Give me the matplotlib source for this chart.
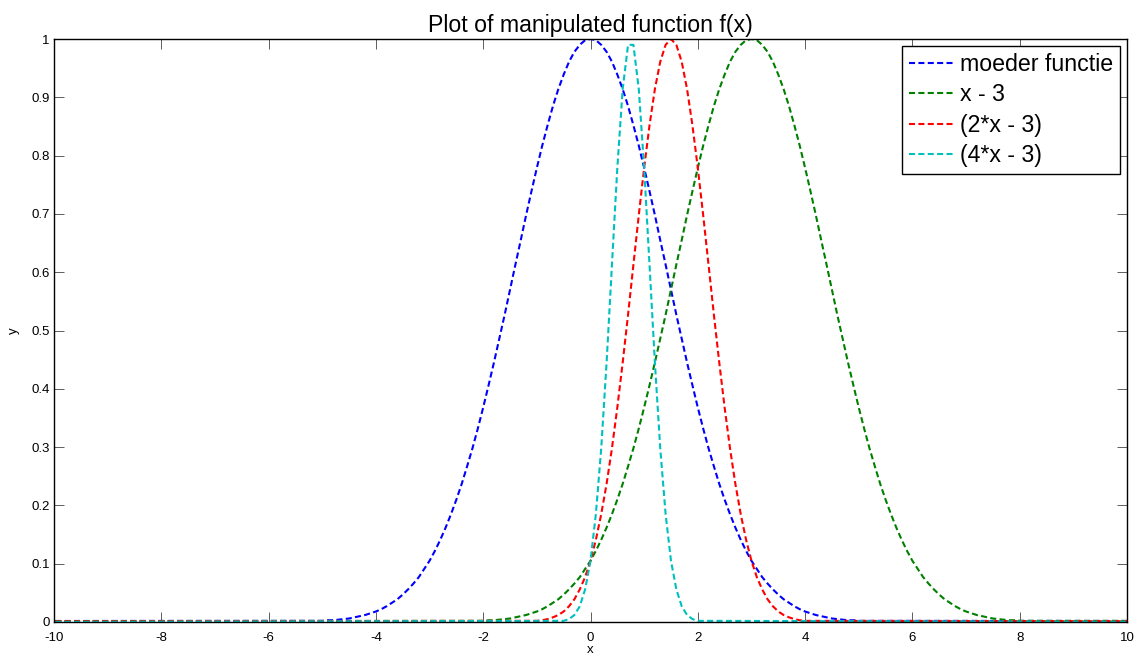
import numpy as np
import matplotlib
matplotlib.use("Agg")
import matplotlib.pyplot as plt

plt.rcParams['font.family'] = ['Liberation Sans', 'DejaVu Sans']
plt.rcParams['axes.unicode_minus'] = False

u_grid = np.round(np.arange(-50, 51) / 10.0, 1)
mother_vals = [
    0.002, 0.003, 0.003, 0.004, 0.005, 0.006, 0.008, 0.010, 0.012, 0.015,
    0.018, 0.022, 0.027, 0.033, 0.039, 0.047, 0.056, 0.066, 0.077, 0.091,
    0.105, 0.122, 0.141, 0.162, 0.185, 0.210, 0.237, 0.267, 0.298, 0.332,
    0.368, 0.406, 0.445, 0.486, 0.527, 0.570, 0.613, 0.655, 0.698, 0.739,
    0.779, 0.817, 0.852, 0.885, 0.914, 0.939, 0.961, 0.978, 0.990, 0.998,
    1.000,
    0.998, 0.990, 0.978, 0.961, 0.939, 0.914, 0.885, 0.852, 0.817, 0.779,
    0.739, 0.698, 0.655, 0.613, 0.570, 0.527, 0.486, 0.445, 0.406, 0.368,
    0.332, 0.298, 0.267, 0.237, 0.210, 0.185, 0.162, 0.141, 0.122, 0.105,
    0.091, 0.077, 0.066, 0.056, 0.047, 0.039, 0.033, 0.027, 0.022, 0.018,
    0.015, 0.012, 0.010, 0.008, 0.006, 0.005, 0.004, 0.003, 0.003, 0.002,
]
# far tails (essentially zero)
tail_u = [-45.0, 45.0]
tail_vals = [0.0, 0.0]

# Series: label, argument scale a and shift b in f(a*x - b)
labels = ['moeder functie', 'x - 3', '(2*x - 3)', '(4*x - 3)']
scale_a = [1, 1, 2, 4]
shift_b = [0, 3, 3, 3]
colors = ['#0000ff', '#008000', '#ff0000', '#00bfbf']

u_all = np.concatenate([[tail_u[0]], u_grid, [tail_u[1]]])
f_all = np.concatenate([[tail_vals[0]], np.array(mother_vals, dtype=float), [tail_vals[1]]])

fig = plt.figure(figsize=(11.45, 6.57), dpi=100)
ax = fig.add_axes([54 / 1145, 1 - 622 / 657, (1127 - 54) / 1145, (622 - 39) / 657])

for lab, a, b, c in zip(labels, scale_a, shift_b, colors):
    x = (u_all + b) / a
    keep = np.isclose(x * 10, np.round(x * 10), atol=1e-6)
    ax.plot(x[keep], f_all[keep], color=c, lw=1.5,
            linestyle=(0, (2.9, 1.6)), label=lab)

ax.set_xlim(-10, 10)
ax.set_ylim(0, 1)
ax.set_xticks(np.arange(-10, 11, 2))
ax.set_yticks(np.arange(0, 11) / 10)
ax.set_yticklabels(['0', '0.1', '0.2', '0.3', '0.4', '0.5', '0.6', '0.7', '0.8', '0.9', '1'])
ax.tick_params(direction='in', length=7.5, width=0.6, color='#444444',
               top=True, right=True, labelsize=9.5)
ax.tick_params(axis='x', pad=7)
ax.tick_params(axis='y', pad=3)
for s in ax.spines.values():
    s.set_linewidth(1.0)
    s.set_color('black')

ax.set_title('Plot of manipulated function f(x)', fontsize=16.7, pad=5)
ax.set_xlabel('x', fontsize=9.5, labelpad=0)
ax.set_ylabel('y', fontsize=9.5, labelpad=8)

leg = ax.legend(loc='upper right', fontsize=16.7, fancybox=False, framealpha=1,
                edgecolor='black', borderaxespad=0.3, handlelength=1.9,
                handletextpad=0.3, labelspacing=0.32, borderpad=0.3)
leg.get_frame().set_linewidth(1.0)

fig.savefig('out.png', dpi=100)
